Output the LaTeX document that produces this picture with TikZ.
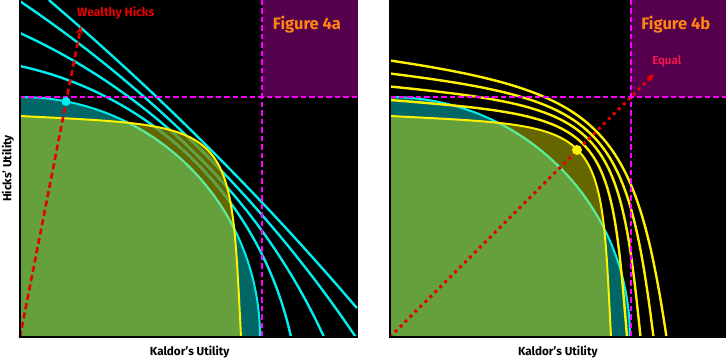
\documentclass[tikz,border=0pt]{standalone}
\usepackage{fontspec}
\setmainfont{Fira Sans}
\usetikzlibrary{arrows.meta}

\definecolor{teal0}{RGB}{0,102,102}
\definecolor{olive0}{RGB}{102,102,0}
\definecolor{green0}{RGB}{102,160,60}
\definecolor{lgreen}{RGB}{100,232,140}
\definecolor{cyan0}{RGB}{0,238,238}
\definecolor{purple0}{RGB}{84,0,76}
\definecolor{orange0}{RGB}{255,132,17}
\definecolor{magenta0}{RGB}{255,0,255}
\definecolor{red0}{RGB}{230,0,0}
\definecolor{pink0}{RGB}{240,20,80}

% shared frontier paths (units are pixels of the panel)
\newcommand{\tealdisk}{(0,0) -- (0,240) arc[start angle=90, end angle=0, radius=240] -- cycle}
\newcommand{\tealedge}{(0,240) arc[start angle=90, end angle=0, radius=240]}
\newcommand{\yregion}{(0,0) -- (0,221) .. controls (216,210) and (210,216) .. (221,0) -- cycle}
\newcommand{\yedge}{(0,221) .. controls (216,210) and (210,216) .. (221,0)}
% Hicks-weighted welfare curves: arcs centred at (-c,-c)
\newcommand{\hickscurves}[1]{%
  \foreach \c/\r/\a in {75/354/77.77, 255/614.4/65.47, 695.6/1244/56.0, 1756/2750.8/49.54}{
    \pgfmathsetmacro{\e}{90-\a}
    \draw[#1] ({\r*cos(\a)-\c},{\r*sin(\a)-\c}) arc[start angle=\a, end angle=\e, radius=\r];
  }}

\begin{document}
\begin{tikzpicture}[x=1pt, y=1pt,
    icurve/.style={cyan0, line width=2.4pt},
    ycurve/.style={yellow, line width=2.4pt},
    edge/.style={line width=2pt},
    axis/.style={black, line width=1.2pt},
    guide/.style={magenta0, line width=2pt, dash pattern=on 5.5pt off 3pt},
    ray/.style={red0, line width=2.6pt, dash pattern=on 6pt off 3.5pt,
                -{Stealth[length=8pt, width=7pt]}},
    dotray/.style={red0, line width=3pt, dash pattern=on 3pt off 4pt,
                   -{Stealth[length=8pt, width=7pt]}},
    dot/.style={circle, inner sep=0pt, minimum size=9pt},
    lbl/.style={font=\fontsize{11.7}{13}\selectfont\bfseries, inner sep=0pt},
    tag/.style={font=\fontsize{11.5}{13}\selectfont\bfseries, inner sep=0pt},
    fig/.style={orange0, font=\fontsize{16.5}{19}\selectfont\bfseries, inner sep=0pt}]

  \fill[white] (-20,-24) rectangle (706,337);
  \useasboundingbox (-20,-24) rectangle (706,337);

  % ===== Figure 4a: wealthy Hicks =====
  \begin{scope}
    \fill[black] (0,0) rectangle (338,337);
    \fill[purple0] (242,240) rectangle (338,337);
    \fill[teal0] \tealdisk;
    \fill[olive0] \yregion;
    \begin{scope}
      \clip \yregion;
      \fill[green0] \tealdisk;
    \end{scope}

    % welfare curves, darkened where they cross the gain region
    \begin{scope}
      \clip (0,0) rectangle (338,337);
      \hickscurves{icurve}
    \end{scope}
    \begin{scope}
      \clip \yregion;
      \hickscurves{icurve, green0}
    \end{scope}

    % frontiers
    \draw[edge, cyan0] \tealedge;
    \begin{scope}
      \clip \yregion;
      \draw[edge, lgreen] \tealedge;
    \end{scope}
    \draw[edge, yellow] \yedge;

    \draw[guide] (0,240) -- (338,240);
    \draw[guide] (242,0) -- (242,337);

    \coordinate (oA) at (0,0);
    \coordinate (tipA) at (61,311);
    \draw[ray] (oA) -- (tipA);
    \node[dot, fill=cyan0] (dotA) at (46,235.5) {};
    \node[tag, red0, anchor=west, font=\fontsize{12.1}{13}\selectfont\bfseries] (wealthy) at (57,324) {Wealthy Hicks};
    \node[fig] (figA) at (287,312.7) {Figure 4a};

    \draw[axis] (0,337) -- (0,0) -- (338,0);
    \node[lbl] (kaldorA) at (169.7,-14.7) {Kaldor's Utility};
    \node[lbl, rotate=90] (hicksA) at (-12,168.5) {Hicks' Utility};
  \end{scope}

  % ===== Figure 4b: equal weights =====
  \begin{scope}[shift={(370,0)}]
    \fill[black] (0,0) rectangle (336,337);
    \fill[purple0] (241,240) rectangle (336,337);
    \fill[teal0] \tealdisk;
    \fill[olive0] \yregion;
    \begin{scope}
      \clip \yregion;
      \fill[green0] \tealdisk;
    \end{scope}

    \draw[edge, cyan0] \tealedge;
    \begin{scope}
      \clip \yregion;
      \draw[edge, lgreen] \tealedge;
    \end{scope}

    % equal-weight welfare curves
    \foreach \r/\a/\b in {237/216/219.7, 250.5/215.6/228.9, 263.5/214/236.7, 276.5/212.6/244.6}
      \draw[ycurve] (0,\r) .. controls (\a,\b) and (\b,\a) .. (\r,0);
    \draw[edge, yellow] \yedge;

    \draw[guide] (0,240) -- (336,240);
    \draw[guide] (241,0) -- (241,337);

    \coordinate (oB) at (0,0);
    \coordinate (tipB) at (264,263);
    \draw[dotray] (oB) -- (tipB);
    \node[dot, fill=yellow, minimum size=10pt] (dotB) at (187,187) {};
    \node[tag, pink0] (equal) at (276.7,276) {Equal};
    \node[fig] (figB) at (285.8,312.7) {Figure 4b};

    \draw[axis] (0,337) -- (0,0) -- (336,0);
    \node[lbl] (kaldorB) at (167.8,-14.7) {Kaldor's Utility};
  \end{scope}
\end{tikzpicture}
\end{document}
